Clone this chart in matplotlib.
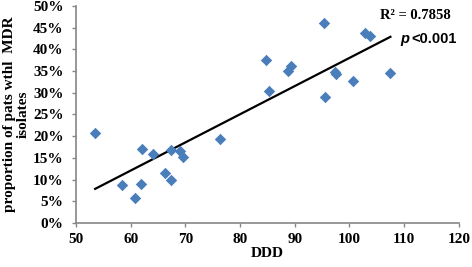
import numpy as np
import matplotlib.pyplot as plt
from matplotlib.ticker import PercentFormatter

# DDD vs proportion of MDR isolates (%)
ddd = [53.5, 62.0, 64.0, 58.5, 61.8, 60.7, 66.2, 67.3, 67.3, 69.0, 69.5, 76.3,
       84.7, 85.3, 88.8, 89.4, 95.3, 95.5, 97.3, 97.6, 100.7, 102.8, 103.7, 107.5]
mdr = [20.8, 17.0, 15.9, 8.7, 9.0, 5.7, 11.4, 9.9, 16.8, 16.6, 15.3, 19.4,
       37.6, 30.5, 35.1, 36.2, 46.0, 29.0, 34.9, 34.3, 32.7, 43.8, 43.1, 34.6]

x = np.array(ddd)
y = np.array(mdr)
slope, icpt = np.polyfit(x, y, 1)

fig = plt.figure(figsize=(4.72, 2.67), dpi=100)
ax = fig.add_axes([0.161, 0.165, 0.811, 0.8125])

xl = np.array([x.min(), x.max()])
ax.plot(xl, slope * xl + icpt, color='black', lw=1.6, zorder=2)
ax.scatter(x, y, marker='D', s=34, color='#4a7ebb', zorder=3, linewidths=0)

ax.set_xlim(50, 120)
ax.set_ylim(0, 50)
ax.set_xticks(np.arange(50, 121, 10))
ax.set_yticks(np.arange(0, 51, 5))
ax.yaxis.set_major_formatter(PercentFormatter(decimals=0))

serif = {'family': 'Liberation Serif', 'weight': 'bold'}
for lab in ax.get_xticklabels() + ax.get_yticklabels():
    lab.set_fontfamily('Liberation Serif')
    lab.set_fontweight('bold')
    lab.set_fontsize(11)

for s in ['top', 'right']:
    ax.spines[s].set_visible(False)
for s in ['left', 'bottom']:
    ax.spines[s].set_color('#868686')
    ax.spines[s].set_linewidth(1.2)
ax.tick_params(length=3, width=1, color='#868686', pad=4)
ax.tick_params(axis='y', pad=6)

ax.set_xlabel('DDD', fontsize=11, labelpad=1, **serif)
ax.set_ylabel('proportion of pats wthl  MDR\nisolates', fontsize=11,
              linespacing=1.15, labelpad=2, **serif)

fig.text(0.805, 0.93, 'R\u00b2 = 0.7858', fontsize=10.5, **serif)
fig.text(0.848, 0.84, 'p', fontsize=10.5, family='Liberation Sans',
         weight='bold', style='italic')
fig.text(0.872, 0.84, '<0.001', fontsize=10.5, family='Liberation Sans',
         weight='bold')

fig.savefig('out.png', dpi=100)
